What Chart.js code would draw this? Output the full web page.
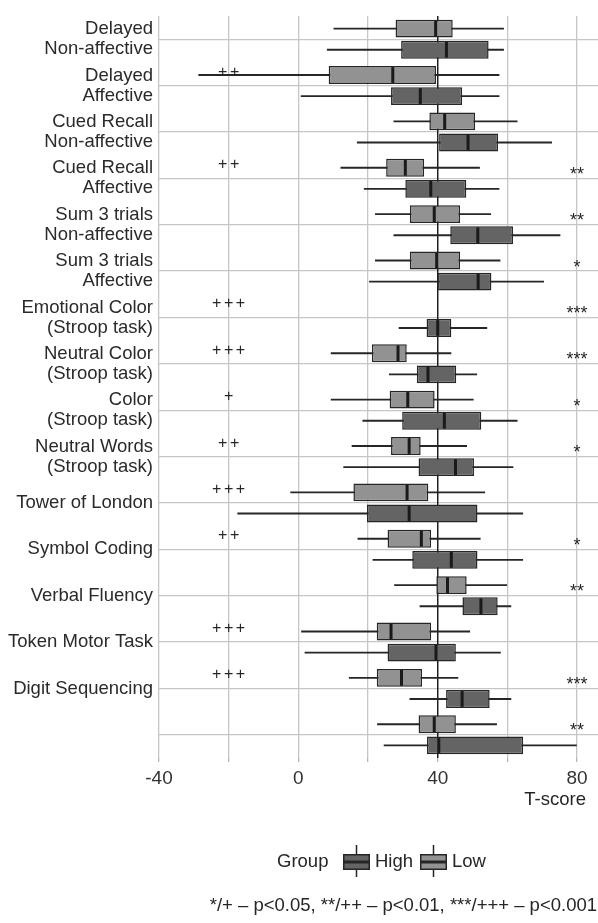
<!DOCTYPE html>
<html>
<head>
<meta charset="utf-8">
<script src="https://cdn.jsdelivr.net/npm/chart.js@4/dist/chart.umd.min.js"></script>
<style>
  html, body { margin: 0; padding: 0; background: #fff; }
  canvas { display: block; }
</style>
</head>
<body>
<canvas id="chart" width="598" height="923"></canvas>
<script>
// Categorías (de arriba hacia abajo)
const categories = [
  ['Delayed', 'Non-affective'],
  ['Delayed', 'Affective'],
  ['Cued Recall', 'Non-affective'],
  ['Cued Recall', 'Affective'],
  ['Sum 3 trials', 'Non-affective'],
  ['Sum 3 trials', 'Affective'],
  ['Emotional Color', '(Stroop task)'],
  ['Neutral Color', '(Stroop task)'],
  ['Color', '(Stroop task)'],
  ['Neutral Words', '(Stroop task)'],
  'Tower of London',
  'Symbol Coding',
  'Verbal Fluency',
  'Token Motor Task',
  'Digit Sequencing',
  ''
];

// [min, q1, mediana, q3, max]
const lowBox = [
  [10.1, 27.9, 39.4, 44.3, 59.0],
  [-28.7, 8.7, 27.1, 39.5, 57.7],
  [27.3, 37.6, 42.0, 50.7, 62.9],
  [12.1, 25.2, 30.7, 36.1, 52.1],
  [22.0, 32.0, 39.0, 46.4, 55.3],
  [22.0, 32.0, 39.7, 46.4, 58.0],
  null,
  [9.3, 21.1, 28.6, 31.1, 43.9],
  [9.3, 26.2, 31.4, 39.1, 50.3],
  [15.3, 26.6, 31.8, 35.1, 48.4],
  [-2.3, 15.8, 31.2, 37.3, 53.6],
  [17.0, 25.6, 35.3, 38.1, 52.3],
  [27.5, 39.6, 42.8, 48.3, 59.9],
  [0.8, 22.5, 26.6, 38.1, 49.3],
  [14.5, 22.5, 29.6, 35.5, 45.9],
  [22.6, 34.5, 39.0, 45.2, 57.0]
];

const highBox = [
  [8.2, 29.5, 42.5, 54.6, 59.0],
  [0.7, 26.6, 35.0, 47.0, 57.7],
  [16.8, 40.4, 48.7, 57.3, 72.8],
  [18.8, 30.7, 38.0, 48.2, 57.7],
  [27.3, 43.6, 51.5, 61.6, 75.2],
  [20.3, 40.1, 51.6, 55.4, 70.5],
  [28.8, 36.8, 40.0, 43.9, 54.2],
  [26.0, 34.0, 37.2, 45.3, 51.3],
  [18.4, 29.8, 41.9, 52.5, 62.9],
  [12.9, 34.5, 45.1, 50.4, 61.7],
  [-17.5, 19.7, 31.8, 51.4, 64.5],
  [21.3, 32.7, 43.9, 51.4, 64.5],
  [34.8, 47.1, 52.4, 57.2, 61.1],
  [1.8, 25.6, 39.5, 45.2, 58.1],
  [31.9, 42.4, 47.0, 54.9, 61.1],
  [24.5, 36.9, 40.3, 64.5, 79.9]
];

// Marcas de significación
const plusMarks = ['', '++', '', '++', '', '', '+++', '+++', '+', '++', '+++', '++', '', '+++', '+++', ''];
const starMarks = ['', '', '', '**', '**', '*', '***', '***', '*', '*', '', '*', '**', '', '***', '**'];
const plusX = -20;
const starX = 80;
const refLine = 40;

const xTicks = [-40, -20, 0, 20, 40, 60, 80];
const xTickLabels = ['-40', '', '0', '', '40', '', '80'];

const FONT = '"Liberation Sans", Arial, sans-serif';
const INK = '#262626';
const GRID = '#c6c6c6';
const HIGH_FILL = '#646464';
const LOW_FILL = '#929292';

function line(ctx, x1, y1, x2, y2) {
  ctx.beginPath();
  ctx.moveTo(x1, y1);
  ctx.lineTo(x2, y2);
  ctx.stroke();
}

const groups = [lowBox, highBox];

const boxplotParts = {
  id: 'boxplotParts',
  beforeDatasetsDraw(chart) {
    const {ctx, chartArea, scales: {x}} = chart;
    ctx.save();
    // línea de referencia
    ctx.strokeStyle = '#1a1a1a';
    ctx.lineWidth = 1.4;
    const rx = x.getPixelForValue(refLine);
    line(ctx, rx, chartArea.top, rx, chartArea.bottom);
    // bigotes
    ctx.strokeStyle = INK;
    ctx.lineWidth = 1.8;
    groups.forEach((stats, di) => {
      chart.getDatasetMeta(di).data.forEach((bar, i) => {
        const s = stats[i];
        if (!s) return;
        line(ctx, x.getPixelForValue(s[0]), bar.y, x.getPixelForValue(s[4]), bar.y);
      });
    });
    ctx.restore();
  },
  afterDatasetsDraw(chart) {
    const {ctx, scales: {x, y}} = chart;
    ctx.save();
    // medianas
    ctx.strokeStyle = '#1a1a1a';
    ctx.lineWidth = 3;
    groups.forEach((stats, di) => {
      chart.getDatasetMeta(di).data.forEach((bar, i) => {
        const s = stats[i];
        if (!s) return;
        const mx = x.getPixelForValue(s[2]);
        line(ctx, mx, bar.y - bar.height / 2 + 1, mx, bar.y + bar.height / 2 - 1);
      });
    });
    // significación
    ctx.fillStyle = INK;
    ctx.textAlign = 'center';
    ctx.textBaseline = 'alphabetic';
    categories.forEach((c, i) => {
      const cy = y.getPixelForValue(i);
      if (plusMarks[i]) {
        ctx.font = '16px ' + FONT;
        ctx.letterSpacing = '2.5px';
        ctx.fillText(plusMarks[i], x.getPixelForValue(plusX) + 1.2, cy - 9);
        ctx.letterSpacing = '0px';
      }
      if (starMarks[i]) {
        ctx.font = '18px ' + FONT;
        ctx.fillText(starMarks[i], x.getPixelForValue(starX), cy + 1.5);
      }
    });
    ctx.restore();
  },
  afterDraw(chart) {
    const {ctx, chartArea} = chart;
    ctx.save();
    ctx.fillStyle = INK;
    ctx.font = '18.5px ' + FONT;
    ctx.textBaseline = 'middle';
    // título del eje
    ctx.textAlign = 'right';
    ctx.fillText('T-score', chartArea.right - 12, 800);
    // leyenda
    ctx.textAlign = 'left';
    const ly = 862;
    ctx.fillText('Group', 277, ly);
    const keys = [
      {label: 'High', fill: HIGH_FILL, x: 343},
      {label: 'Low', fill: LOW_FILL, x: 420}
    ];
    keys.forEach(k => {
      const w = 27, h = 16;
      ctx.strokeStyle = INK;
      ctx.lineWidth = 1.5;
      line(ctx, k.x + w / 2, ly - 17, k.x + w / 2, ly + 15);
      ctx.fillStyle = k.fill;
      ctx.fillRect(k.x, ly - h / 2, w, h);
      ctx.strokeRect(k.x + 0.75, ly - h / 2 + 0.75, w - 1.5, h - 1.5);
      ctx.lineWidth = 3;
      line(ctx, k.x, ly, k.x + w, ly);
      ctx.fillStyle = INK;
      ctx.fillText(k.label, k.x + w + 5, ly);
    });
    // nota
    ctx.textAlign = 'right';
    ctx.fillText('*/+ \u2013 p<0.05, **/++ \u2013 p<0.01, ***/+++ \u2013 p<0.001', 597, 906);
    ctx.restore();
  }
};

const boxStyle = {
  borderColor: INK,
  borderWidth: 1.5,
  borderSkipped: false,
  categoryPercentage: 0.91,
  barPercentage: 0.845
};

new Chart(document.getElementById('chart'), {
  type: 'bar',
  data: {
    labels: categories,
    datasets: [
      {label: 'Low', data: lowBox.map(s => s ? [s[1], s[3]] : null), backgroundColor: LOW_FILL, ...boxStyle},
      {label: 'High', data: highBox.map(s => s ? [s[1], s[3]] : null), backgroundColor: HIGH_FILL, ...boxStyle}
    ]
  },
  options: {
    indexAxis: 'y',
    responsive: false,
    animation: false,
    layout: {padding: {top: 11, right: 0, bottom: 0, left: 0}},
    plugins: {
      legend: {display: false},
      tooltip: {enabled: false}
    },
    scales: {
      x: {
        type: 'linear',
        min: -40,
        max: 86,
        afterBuildTicks: s => { s.ticks = xTicks.map(v => ({value: v})); },
        afterFit: s => { s.height = 165; },
        border: {display: false},
        grid: {color: GRID, lineWidth: 1.3, tickLength: 4, tickColor: '#b5b5b5'},
        ticks: {
          autoSkip: false,
          maxRotation: 0,
          padding: 5,
          color: '#333',
          font: {family: FONT, size: 19},
          callback: (v, i) => xTickLabels[i]
        }
      },
      y: {
        type: 'category',
        afterFit: s => { s.width = 159; },
        border: {display: false},
        grid: {color: GRID, lineWidth: 1.3, offset: false, drawTicks: false},
        ticks: {
          autoSkip: false,
          padding: 6,
          color: '#2a2a2a',
          font: {family: FONT, size: 18.5, lineHeight: 1.08}
        }
      }
    }
  },
  plugins: [boxplotParts]
});
</script>
</body>
</html>
